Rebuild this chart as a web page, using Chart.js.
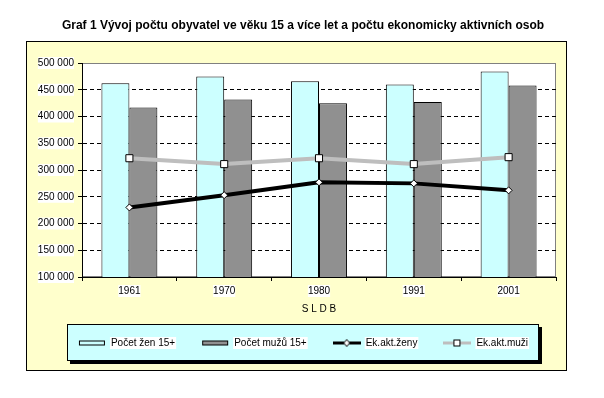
<!DOCTYPE html>
<html lang="cs">
<head>
<meta charset="utf-8">
<title>Graf 1</title>
<script src="https://cdn.jsdelivr.net/npm/chart.js@4.4.1/dist/chart.umd.min.js"></script>
<style>
  html, body { margin: 0; padding: 0; background: #fff; }
  #obal { width: 604px; height: 398px; position: relative; }
</style>
</head>
<body>
<div id="obal"><canvas id="graf"></canvas></div>
<script>
// Data ze sčítání (SLDB)
const roky = ['1961', '1970', '1980', '1991', '2001'];
const pocetZen15 = [462000, 475000, 466000, 460000, 484000];
const pocetMuzu15 = [417000, 432000, 425000, 427000, 458000];
const ekAktZeny = [230000, 253000, 277000, 275000, 262000];
const ekAktMuzi = [322000, 311000, 322000, 311000, 324000];
const osaYMin = 100000;
const osaYMax = 500000;
const osaYKrok = 50000;

const pismo = 'Arial, "Liberation Sans", sans-serif';
Chart.defaults.font.family = pismo;
Chart.defaults.font.size = 10;
Chart.defaults.color = '#000';

// "500 000" - mezera jako oddělovač tisíců
function formatCislo(v) {
  return String(v).replace(/\B(?=(\d{3})+(?!\d))/g, ' ');
}

// malé obrázky do legendy
function ikona(kresli) {
  const c = document.createElement('canvas');
  c.width = 28;
  c.height = 9;
  kresli(c.getContext('2d'));
  return c;
}
const ikony = [
  ikona(g => {
    g.fillStyle = '#CCFFFF'; g.fillRect(1.5, 2.5, 25, 4);
    g.strokeStyle = '#000'; g.lineWidth = 1; g.strokeRect(1.5, 2.5, 25, 4);
  }),
  ikona(g => {
    g.fillStyle = '#909090'; g.fillRect(1.5, 2.5, 25, 4);
    g.strokeStyle = '#000'; g.lineWidth = 1; g.strokeRect(1.5, 2.5, 25, 4);
  }),
  ikona(g => {
    g.fillStyle = '#000'; g.fillRect(0, 3, 28, 3);
    g.beginPath(); g.moveTo(14, 1); g.lineTo(17, 4.5); g.lineTo(14, 8); g.lineTo(11, 4.5); g.closePath();
    g.fillStyle = '#fff'; g.fill(); g.strokeStyle = '#000'; g.lineWidth = 1; g.stroke();
  }),
  ikona(g => {
    g.fillStyle = '#BEBEBE'; g.fillRect(0, 3, 28, 3);
    g.fillStyle = '#fff'; g.fillRect(10.5, 1.5, 6, 6);
    g.strokeStyle = '#000'; g.lineWidth = 1; g.strokeRect(10.5, 1.5, 6, 6);
  })
];

// žlutý rámeček, bílá plocha grafu a box legendy
const ramecek = {
  id: 'ramecek',
  afterLayout(chart) {
    // legenda i nadpis jsou v originále trochu vpravo
    chart.legend.left += 8;
    chart.legend.right += 8;
    chart.titleBlock.left += 8;
    chart.titleBlock.right += 8;
  },
  beforeDraw(chart) {
    const g = chart.ctx;
    const a = chart.chartArea;
    g.save();
    g.fillStyle = '#FFFFCC';
    g.fillRect(26.5, 41.5, 540, 329);
    g.strokeStyle = '#000';
    g.lineWidth = 1;
    g.strokeRect(26.5, 41.5, 540, 329);

    g.fillStyle = '#fff';
    g.fillRect(a.left, a.top, a.right - a.left, a.bottom - a.top);
    g.strokeStyle = '#808080';
    g.strokeRect(a.left + 0.5, a.top + 0.5, a.right - a.left - 1, a.bottom - a.top - 1);

    g.fillStyle = '#000';
    g.fillRect(70, 327, 472, 37);
    g.fillStyle = '#CCFFFF';
    g.fillRect(67, 324, 472, 37);
    g.strokeStyle = '#000';
    g.strokeRect(67.5, 324.5, 471, 36);

    // bílé pozadí pod texty legendy
    g.fillStyle = '#fff';
    (chart.legend.legendHitBoxes || []).forEach(h => {
      const x = h.left + 28 + 5;
      g.fillRect(x - 1, h.top + h.height / 2 - 6, h.left + h.width - x + 2, 12);
    });
    g.restore();
  }
};

new Chart(document.getElementById('graf'), {
  data: {
    labels: roky,
    datasets: [
      {
        type: 'bar', label: 'Počet žen 15+', data: pocetZen15,
        backgroundColor: '#CCFFFF', borderColor: '#000', borderWidth: 1,
        categoryPercentage: 0.59, barPercentage: 1, order: 2
      },
      {
        type: 'bar', label: 'Počet mužů 15+', data: pocetMuzu15,
        backgroundColor: '#909090', borderColor: '#000', borderWidth: 1,
        categoryPercentage: 0.59, barPercentage: 1, order: 2
      },
      {
        type: 'line', label: 'Ek.akt.ženy', data: ekAktZeny,
        borderColor: '#000', borderWidth: 4, tension: 0,
        pointStyle: 'rectRot', pointRadius: 3.5, pointBackgroundColor: '#fff',
        pointBorderColor: '#000', pointBorderWidth: 1, order: 1
      },
      {
        type: 'line', label: 'Ek.akt.muži', data: ekAktMuzi,
        borderColor: '#BEBEBE', borderWidth: 4, tension: 0,
        pointStyle: 'rect', pointRadius: 5, pointBackgroundColor: '#fff',
        pointBorderColor: '#000', pointBorderWidth: 1, order: 0
      }
    ]
  },
  options: {
    responsive: true,
    maintainAspectRatio: false,
    animation: false,
    layout: { padding: { left: 34, right: 48, top: 0, bottom: 40 } },
    plugins: {
      title: {
        display: true,
        text: 'Graf 1 Vývoj počtu obyvatel ve věku 15 a více let a počtu ekonomicky aktivních osob',
        font: { family: pismo, size: 12, weight: 'bold' },
        color: '#000',
        padding: { top: 18, bottom: 30.6 }
      },
      legend: {
        position: 'bottom',
        labels: {
          usePointStyle: true,
          pointStyleWidth: 28,
          padding: 26,
          color: '#000',
          font: { size: 10 },
          generateLabels(chart) {
            return chart.data.datasets.map((ds, i) => ({
              text: ds.label,
              datasetIndex: i,
              pointStyle: ikony[i],
              hidden: false,
              fontColor: '#000',
              fillStyle: 'transparent',
              strokeStyle: 'transparent',
              lineWidth: 0
            }));
          }
        }
      },
      tooltip: { enabled: false }
    },
    scales: {
      x: {
        grid: { offset: true, drawOnChartArea: false, tickLength: 4, color: '#000', tickColor: '#000' },
        border: { color: '#000', width: 1 },
        ticks: { padding: 4, color: '#000', showLabelBackdrop: true, backdropColor: '#fff', backdropPadding: 0 },
        title: { display: true, text: 'S L D B', color: '#000', font: { size: 10 }, padding: { top: 0, bottom: -3 } },
        afterFit(s) { s.height = 35; }
      },
      y: {
        min: osaYMin,
        max: osaYMax,
        grid: {
          color: c => (c.tick && c.tick.value === osaYMax) ? 'rgba(0,0,0,0)' : '#000',
          tickColor: '#000',
          tickLength: 4
        },
        border: { color: '#000', width: 1, dash: [4, 3] },
        ticks: {
          stepSize: osaYKrok,
          padding: 4,
          color: '#000',
          showLabelBackdrop: true,
          backdropColor: '#fff',
          backdropPadding: 0,
          callback: v => formatCislo(v)
        },
        afterFit(s) { s.width = 48; }
      }
    }
  },
  plugins: [ramecek]
});
</script>
</body>
</html>
